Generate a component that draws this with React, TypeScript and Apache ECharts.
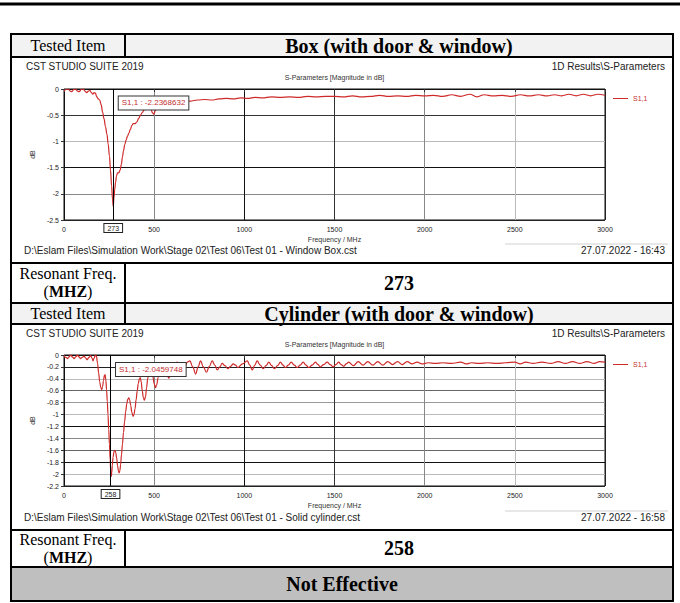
import { useEffect, useRef } from 'react';
import * as echarts from 'echarts';

// ---------- data ----------
const freqAxis = { min: 0, max: 3000, interval: 500 };
const boxDbAxis = { min: -2.5, max: 0, interval: 0.5 };
const cylDbAxis = { min: -2.2, max: 0, interval: 0.2 };

const seriesName = 'S1,1';
const boxResonance = 273;
const boxMinLabel = 'S1,1 : -2.2368632';
const cylResonance = 258;
const cylMinLabel = 'S1,1 : -2.0459748';

const boxCurve: [number, number][] = [
  [0, -0.04], [12, -0.01], [24, 0], [34, -0.04], [44, -0.05], [54, -0.01], [64, 0], [74, -0.04], [84, -0.05],
  [96, -0.01], [107, 0], [116, -0.04], [126, -0.07], [135, -0.04], [144, -0.03], [152, -0.07], [160, -0.1],
  [167, -0.07], [174, -0.08], [182, -0.15], [190, -0.19], [198, -0.21], [206, -0.3], [214, -0.44], [222, -0.57],
  [230, -0.72], [238, -0.86], [245, -1.05], [252, -1.28], [258, -1.55], [264, -1.85], [269, -2.1], [273, -2.24],
  [277, -2.08], [281, -1.92], [286, -1.78], [291, -1.66], [297, -1.6], [304, -1.6], [311, -1.55], [318, -1.44],
  [324, -1.3], [330, -1.18], [337, -1.06], [345, -0.97], [352, -0.9], [360, -0.84], [368, -0.77], [376, -0.7],
  [384, -0.66], [394, -0.66], [404, -0.63], [414, -0.56], [424, -0.5], [434, -0.45], [444, -0.4], [454, -0.36],
  [464, -0.31], [474, -0.3], [482, -0.38], [490, -0.45], [498, -0.48], [506, -0.42], [516, -0.35], [530, -0.31],
  [550, -0.29], [575, -0.27], [600, -0.26], [630, -0.25], [665, -0.24], [700, -0.23], [740, -0.21], [780, -0.2],
  [820, -0.21], [860, -0.19], [900, -0.18], [940, -0.19], [980, -0.17], [1020, -0.18], [1060, -0.16], [1100, -0.17],
  [1150, -0.15], [1200, -0.16], [1250, -0.15], [1300, -0.16], [1350, -0.14], [1400, -0.15], [1450, -0.14],
  [1500, -0.14], [1550, -0.15], [1600, -0.13], [1650, -0.15], [1700, -0.14], [1750, -0.12], [1800, -0.14],
  [1850, -0.13], [1900, -0.14], [1950, -0.12], [2000, -0.13], [2050, -0.12], [2100, -0.14], [2150, -0.11],
  [2200, -0.14], [2250, -0.1], [2290, -0.15], [2330, -0.11], [2380, -0.13], [2430, -0.12], [2480, -0.14],
  [2530, -0.11], [2580, -0.13], [2630, -0.11], [2680, -0.13], [2720, -0.11], [2760, -0.13], [2800, -0.1],
  [2840, -0.13], [2880, -0.1], [2920, -0.13], [2960, -0.1], [3000, -0.12],
];

const cylCurve: [number, number][] = [
  [0, -0.01], [10, -0.04], [19, -0.06], [28, -0.03], [37, 0], [46, -0.03], [56, -0.06], [65, -0.03], [74, 0],
  [83, -0.03], [92, -0.06], [101, -0.04], [111, -0.02], [120, -0.05], [129, -0.08], [138, -0.04], [148, -0.01],
  [155, -0.05], [161, -0.1], [167, -0.05], [174, 0], [180, -0.02], [186, -0.14], [192, -0.3], [198, -0.45],
  [204, -0.55], [209, -0.58], [214, -0.53], [219, -0.43], [224, -0.34], [228, -0.33], [232, -0.42], [236, -0.58],
  [240, -0.78], [244, -1.0], [248, -1.25], [252, -1.5], [256, -1.76], [259, -1.95], [262, -2.04], [265, -1.97],
  [268, -1.85], [272, -1.72], [277, -1.62], [282, -1.6], [287, -1.64], [292, -1.73], [297, -1.86], [302, -1.95],
  [306, -1.98], [310, -1.94], [314, -1.84], [319, -1.67], [324, -1.5], [330, -1.3], [336, -1.12], [342, -0.95],
  [348, -0.82], [354, -0.74], [359, -0.72], [364, -0.75], [370, -0.85], [376, -0.96], [383, -1.03], [388, -1.0],
  [394, -0.9], [400, -0.75], [406, -0.6], [412, -0.48], [418, -0.4], [423, -0.38], [428, -0.45], [434, -0.6],
  [440, -0.72], [446, -0.76], [452, -0.7], [458, -0.55], [464, -0.4], [470, -0.3], [477, -0.22], [484, -0.24],
  [492, -0.35], [500, -0.48], [507, -0.55], [514, -0.5], [522, -0.38], [530, -0.28], [540, -0.22], [550, -0.2],
  [560, -0.24], [571, -0.33], [581, -0.39], [591, -0.33], [603, -0.22], [615, -0.13], [628, -0.12], [641, -0.2],
  [656, -0.25], [670, -0.19], [684, -0.12], [698, -0.1], [714, -0.2], [730, -0.32], [744, -0.2], [757, -0.1],
  [773, -0.2], [790, -0.29], [806, -0.19], [822, -0.1], [836, -0.17], [850, -0.25], [864, -0.2], [877, -0.14],
  [893, -0.18], [909, -0.23], [924, -0.19], [938, -0.15], [951, -0.17], [964, -0.21], [990, -0.15], [1016, -0.1],
  [1030, -0.17], [1044, -0.25], [1058, -0.17], [1071, -0.1], [1088, -0.17], [1105, -0.23], [1120, -0.18],
  [1136, -0.12], [1152, -0.18], [1167, -0.23], [1184, -0.18], [1200, -0.12], [1214, -0.17], [1228, -0.21],
  [1244, -0.17], [1260, -0.12], [1277, -0.17], [1293, -0.21], [1310, -0.17], [1326, -0.12], [1342, -0.17],
  [1357, -0.21], [1376, -0.17], [1394, -0.12], [1408, -0.16], [1422, -0.2], [1440, -0.16], [1459, -0.12],
  [1476, -0.16], [1492, -0.2], [1508, -0.16], [1523, -0.12], [1537, -0.16], [1551, -0.19], [1565, -0.15],
  [1578, -0.12], [1605, -0.18], [1632, -0.11], [1658, -0.17], [1685, -0.11], [1712, -0.17], [1740, -0.11],
  [1768, -0.17], [1795, -0.11], [1822, -0.16], [1850, -0.11], [1876, -0.16], [1903, -0.11], [1930, -0.15],
  [1958, -0.12], [1985, -0.15], [2020, -0.13], [2060, -0.14], [2100, -0.13], [2150, -0.14], [2200, -0.12],
  [2230, -0.15], [2260, -0.13], [2300, -0.14], [2350, -0.13], [2400, -0.14], [2450, -0.13], [2500, -0.12],
  [2530, -0.15], [2560, -0.12], [2600, -0.14], [2650, -0.12], [2700, -0.14], [2740, -0.11], [2780, -0.14],
  [2820, -0.11], [2860, -0.14], [2900, -0.11], [2940, -0.14], [2970, -0.11], [3000, -0.12],
];

// texts
const testedItemLabel = 'Tested Item';
const boxTitle = 'Box (with door & window)';
const cylTitle = 'Cylinder (with door & window)';
const cstHeader = 'CST STUDIO SUITE 2019';
const cstResult = '1D Results\\S-Parameters';
const plotTitle = 'S-Parameters [Magnitude in dB]';
const boxFooterPath = 'D:\\Eslam Files\\Simulation Work\\Stage 02\\Test 06\\Test 01 - Window Box.cst';
const boxFooterDate = '27.07.2022 - 16:43';
const cylFooterPath = 'D:\\Eslam Files\\Simulation Work\\Stage 02\\Test 06\\Test 01 - Solid cylinder.cst';
const cylFooterDate = '27.07.2022 - 16:58';
const boxResult = '273';
const cylResult = '258';
const verdict = 'Not Effective';

// grid line shades (from min tick upward)
const freqGridShades = ['#111', '#888', '#111', '#333', '#888', '#bbb', '#222'];
const boxDbGridShades = ['#222', '#888', '#111', '#bbb', '#333', '#111'];
const cylDbGridShades = ['#222', '#bbb', '#111', '#666', '#888', '#111', '#bbb', '#999', '#666', '#bbb', '#222', '#111'];

// ---------- layout ----------
const TL = 11, TR = 673, COL = 125;
const SERIF = 'Liberation Serif';
const SANS = 'Liberation Sans';
const RED = '#cf2a2a';

const box1 = { top: 57, bottom: 263, plotTop: 89, plotH: 131 };
const box2 = { top: 324, bottom: 530, plotTop: 355, plotH: 131 };
const PLOT_L = 64, PLOT_W = 541;

function txt(x: number, y: number, text: string, o: any = {}) {
  return {
    type: 'text', x, y, silent: true,
    style: {
      text, fill: o.fill || '#000', fontSize: o.size || 10, fontFamily: o.family || SANS,
      fontWeight: o.weight || 'normal', align: o.align || 'left', verticalAlign: 'middle',
      rich: o.rich,
    },
  };
}
function hline(y: number, x1: number, x2: number, w = 2, c = '#000') {
  return { type: 'line', silent: true, shape: { x1, y1: y, x2, y2: y }, style: { stroke: c, lineWidth: w } };
}
function vline(x: number, y1: number, y2: number, w = 2, c = '#000') {
  return { type: 'line', silent: true, shape: { x1: x, y1, x2: x, y2 }, style: { stroke: c, lineWidth: w } };
}
function fillRect(x: number, y: number, w: number, h: number, c: string) {
  return { type: 'rect', silent: true, shape: { x, y, width: w, height: h }, style: { fill: c } };
}

function cstTexts(b: typeof box1, path: string, date: string) {
  return [
    txt(26, b.top + 9, cstHeader, { size: 10, fill: '#222' }),
    txt(665, b.top + 9, cstResult, { size: 10, fill: '#222', align: 'right' }),
    txt(PLOT_L + PLOT_W / 2, b.top + 20, plotTitle, { size: 7, fill: '#333', align: 'center' }),
    hline(b.top + 187, 505, 668, 1, '#d0d0d0'),
    txt(24, b.top + 193, path, { size: 10, fill: '#222' }),
    txt(665, b.top + 193, date, { size: 10, fill: '#222', align: 'right' }),
  ];
}

function makeXAxis(gridIndex: number) {
  return {
    type: 'value', gridIndex, min: freqAxis.min, max: freqAxis.max, interval: freqAxis.interval,
    name: 'Frequency / MHz', nameLocation: 'middle', nameGap: 16,
    nameTextStyle: { fontSize: 7, color: '#333', fontFamily: SANS },
    axisLine: { show: false },
    axisTick: { show: true, length: 3, lineStyle: { color: '#333' } },
    axisLabel: { fontSize: 7, color: '#222', fontFamily: SANS, margin: 6, formatter: (v: number) => String(v) },
    splitLine: { show: true, lineStyle: { color: freqGridShades, width: 1 } },
  };
}
function makeYAxis(gridIndex: number, ax: typeof boxDbAxis, shades: string[]) {
  return {
    type: 'value', gridIndex, min: ax.min, max: ax.max, interval: ax.interval,
    name: 'dB', nameLocation: 'middle', nameGap: 26, nameRotate: 90,
    nameTextStyle: { fontSize: 7, color: '#333', fontFamily: SANS },
    axisLine: { show: false },
    axisTick: { show: true, length: 3, lineStyle: { color: '#333' } },
    axisLabel: { fontSize: 7, color: '#222', fontFamily: SANS, margin: 5 },
    splitLine: { show: true, lineStyle: { color: shades, width: 1 } },
  };
}
function makeSeries(idx: number, data: [number, number][], res: number, label: string, labelDb: number) {
  return {
    type: 'line', name: seriesName, xAxisIndex: idx, yAxisIndex: idx, data,
    symbol: 'none', smooth: 0.4, smoothMonotone: 'x',
    lineStyle: { color: RED, width: 1.2 }, itemStyle: { color: RED },
    markLine: {
      silent: true, symbol: ['none', 'none'], animation: false,
      lineStyle: { color: '#000', width: 1, type: 'solid' },
      label: {
        show: true, position: 'start', formatter: String(res), fontSize: 7, color: '#222', fontFamily: SANS,
        borderColor: '#222', borderWidth: 1, padding: [1, 3, 0, 3], backgroundColor: '#fff', distance: 4,
      },
      data: [{ xAxis: res }],
    },
    markPoint: {
      silent: true, symbol: 'rect', symbolSize: 1, animation: false,
      itemStyle: { color: 'rgba(0,0,0,0)' },
      label: {
        show: true, position: 'right', distance: 5, formatter: label, fontSize: 8, color: '#c43030',
        fontFamily: SANS, backgroundColor: '#fff', borderColor: '#333', borderWidth: 1, padding: [3, 3, 2, 3],
      },
      data: [{ coord: [res, labelDb] }],
    },
  };
}

export default function App() {
  const ref = useRef<HTMLDivElement>(null);
  useEffect(() => {
    if (!ref.current) return;
    const chart = echarts.init(ref.current, undefined, { renderer: 'svg' });

    const mhz = (y: number) =>
      txt((TL + COL) / 2, y, '{n|(}{b|MHZ}{n|)}', {
        family: SERIF, size: 16, align: 'center',
        rich: {
          n: { fontWeight: 'normal', fontSize: 16, fontFamily: SERIF },
          b: { fontWeight: 'bold', fontSize: 16, fontFamily: SERIF },
        },
      });

    const graphics: any[] = [
      hline(4, 0, 680, 3),
      fillRect(TL, 34, TR - TL, 23, '#f2f2f2'),
      fillRect(TL, 303, TR - TL, 21, '#f2f2f2'),
      fillRect(TL, 567, TR - TL, 34, '#bfbfbf'),
      // outer border
      hline(34, TL - 1, TR + 1), hline(601, TL - 1, TR + 1),
      vline(TL, 34, 601), vline(TR, 34, 601),
      // row separators
      hline(57, TL, TR), hline(263, TL, TR), hline(303, TL, TR), hline(324, TL, TR),
      hline(530, TL, TR), hline(567, TL, TR),
      // column dividers
      vline(COL, 34, 57), vline(COL, 263, 324), vline(COL, 530, 567),
      // table texts
      txt((TL + COL) / 2, 45.5, testedItemLabel, { family: SERIF, size: 16, align: 'center' }),
      txt((COL + TR) / 2, 45.5, boxTitle, { family: SERIF, size: 20, weight: 'bold', align: 'center' }),
      txt((TL + COL) / 2, 273, 'Resonant Freq.', { family: SERIF, size: 16, align: 'center' }),
      mhz(291),
      txt((COL + TR) / 2, 283, boxResult, { family: SERIF, size: 20, weight: 'bold', align: 'center' }),
      txt((TL + COL) / 2, 313.5, testedItemLabel, { family: SERIF, size: 16, align: 'center' }),
      txt((COL + TR) / 2, 313.5, cylTitle, { family: SERIF, size: 20, weight: 'bold', align: 'center' }),
      txt((TL + COL) / 2, 539, 'Resonant Freq.', { family: SERIF, size: 16, align: 'center' }),
      mhz(557),
      txt((COL + TR) / 2, 548, cylResult, { family: SERIF, size: 20, weight: 'bold', align: 'center' }),
      txt((TL + TR) / 2, 584, verdict, { family: SERIF, size: 20, weight: 'bold', align: 'center' }),
      ...cstTexts(box1, boxFooterPath, boxFooterDate),
      ...cstTexts(box2, cylFooterPath, cylFooterDate),
    ];

    const legendBase = {
      left: 613, itemWidth: 15, itemHeight: 1, icon: 'rect', padding: 0, selectedMode: false, data: [seriesName],
      textStyle: { color: '#c43030', fontSize: 7, fontFamily: SANS },
    };

    chart.setOption({
      animation: false,
      backgroundColor: '#fff',
      graphic: { elements: graphics },
      legend: [
        { ...legendBase, top: box1.plotTop + 6 },
        { ...legendBase, top: box2.plotTop + 6 },
      ],
      grid: [
        { left: PLOT_L, top: box1.plotTop, width: PLOT_W, height: box1.plotH, show: true, borderColor: '#111', borderWidth: 1, backgroundColor: '#fff' },
        { left: PLOT_L, top: box2.plotTop, width: PLOT_W, height: box2.plotH, show: true, borderColor: '#111', borderWidth: 1, backgroundColor: '#fff' },
      ],
      xAxis: [makeXAxis(0), makeXAxis(1)],
      yAxis: [makeYAxis(0, boxDbAxis, boxDbGridShades), makeYAxis(1, cylDbAxis, cylDbGridShades)],
      series: [
        makeSeries(0, boxCurve, boxResonance, boxMinLabel, -0.267),
        makeSeries(1, cylCurve, cylResonance, cylMinLabel, -0.243),
      ],
    });
    return () => chart.dispose();
  }, []);

  return <div ref={ref} style={{ position: 'absolute', left: 0, top: 0, width: 680, height: 603 }} />;
}
